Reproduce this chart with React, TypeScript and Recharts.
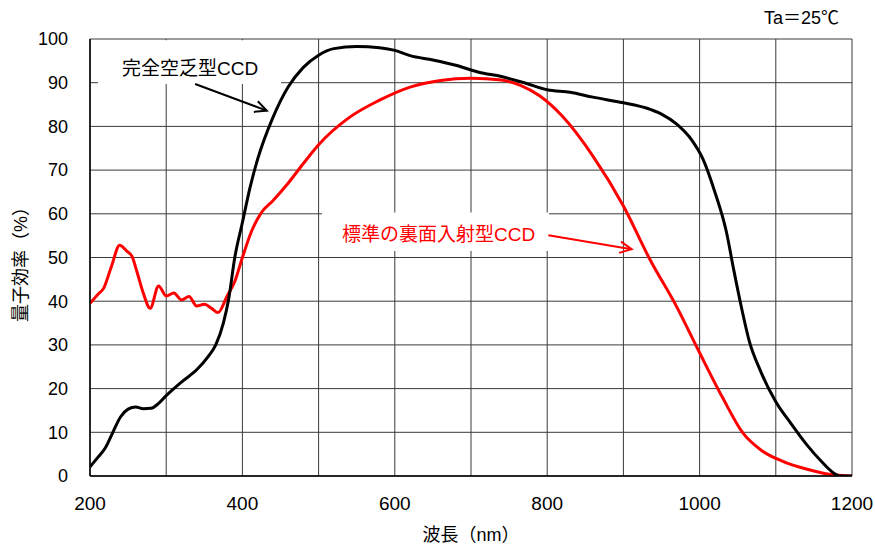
import {
  CartesianGrid,
  Line,
  LineChart,
  ReferenceArea,
  ReferenceLine,
  XAxis,
  YAxis,
} from 'recharts';

// 完全空乏型CCD
const fdWavelength = [
  200, 210, 220, 230, 240, 250, 260, 270, 280, 290, 300, 320, 340, 355, 365, 375, 382, 390,
  400, 410, 420, 440, 460, 480, 500, 520, 550, 580, 600, 620, 650, 680, 710, 740, 770, 800,
  830, 860, 900, 930, 950, 970, 990, 1005, 1020, 1035, 1045, 1055, 1065, 1080, 1100, 1120,
  1140, 1160, 1175, 1185, 1200,
];
const fdQe = [
  2.1, 4.2, 6.4, 10, 13.5, 15.3, 15.8, 15.4, 15.5, 16.6, 18.4, 21.5, 24.3, 27.3, 30, 35, 40.5,
  50, 58, 66, 72.5, 82, 89, 93.5, 96.3, 97.8, 98.3, 98, 97.4, 96.2, 95.2, 94, 92.4, 91.4, 90.0,
  88.4, 87.8, 86.7, 85.4, 84.2, 82.8, 80.5, 76.8, 72.3, 65, 56, 47, 38.5, 31, 24, 17, 12, 7.3,
  3.3, 0.8, 0, 0,
];

// 標準の裏面入射型CCD
const biWavelength = [
  200, 210, 218, 228, 239, 248, 255, 262, 270, 279, 290, 300, 310, 320, 330, 340, 350, 360,
  368, 380, 390, 400, 412, 425, 440, 460, 480, 500, 540, 580, 620, 660, 700, 740, 765, 790,
  820, 860, 900, 935, 970, 1000, 1030, 1057, 1080, 1110, 1140, 1170, 1200,
];
const biQe = [
  39.5, 41.5, 43, 47.9, 52.8, 51.5, 50.3, 46.5, 41.8, 38.4, 43.5, 41.2, 41.9, 40.3, 41.1, 38.9,
  39.3, 38.3, 37.4, 41.2, 44.5, 50, 56, 60.3, 63, 67, 71.5, 75.8, 82, 86, 89, 90.5, 91, 90.6,
  89.4, 87, 82.3, 73.2, 61.8, 49.5, 38.7, 28.2, 18, 9.8, 6, 3.3, 1.6, 0.4, 0,
];

const xTicks = [200, 300, 400, 500, 600, 700, 800, 900, 1000, 1100, 1200];
const yTicks = [0, 10, 20, 30, 40, 50, 60, 70, 80, 90, 100];

const fdData = fdWavelength.map((x, i) => ({ x, y: fdQe[i] }));
const biData = biWavelength.map((x, i) => ({ x, y: biQe[i] }));

const latin = '"Liberation Sans", Arial, "Noto Sans CJK JP", sans-serif';

function arrowShape(color: string) {
  return (props: any) => {
    const { x1, y1, x2, y2 } = props;
    const a = Math.atan2(y2 - y1, x2 - x1);
    const len = 13;
    const spread = 0.45;
    const w1x = x2 - len * Math.cos(a - spread);
    const w1y = y2 - len * Math.sin(a - spread);
    const w2x = x2 - len * Math.cos(a + spread);
    const w2y = y2 - len * Math.sin(a + spread);
    return (
      <g>
        <line x1={x1} y1={y1} x2={x2} y2={y2} stroke={color} strokeWidth={2} />
        <polyline
          points={`${w1x},${w1y} ${x2},${y2} ${w2x},${w2y}`}
          fill="none"
          stroke={color}
          strokeWidth={2}
        />
      </g>
    );
  };
}

const boxLabel = (text: string, color: string, dx: number, cy: number) => (props: any) => {
  const vb = props.viewBox || {};
  return (
    <text
      x={(vb.x ?? 0) + dx}
      y={cy}
      fill={color}
      fontSize={19}
      fontFamily={latin}
      dominantBaseline="central"
    >
      {text}
    </text>
  );
};

export default function App() {
  return (
    <div style={{ position: 'absolute', left: 0, top: 0, width: 875, height: 547, background: '#fff' }}>
      <LineChart width={875} height={547} margin={{ top: 39, right: 23, bottom: 0, left: 0 }}>
        <CartesianGrid stroke="#3a3a3a" strokeWidth={1} />
        <XAxis
          type="number"
          dataKey="x"
          domain={[200, 1200]}
          ticks={xTicks}
          tickFormatter={(v: number) => (v % 200 === 0 ? String(v) : '')}
          tick={{ fill: '#000', fontSize: 19, fontFamily: latin }}
          tickLine={false}
          tickSize={0}
          tickMargin={21}
          axisLine={{ stroke: '#000', strokeWidth: 1.5 }}
          height={71}
          allowDataOverflow
        />
        <YAxis
          type="number"
          domain={[0, 100]}
          ticks={yTicks}
          tick={{ fill: '#000', fontSize: 18, fontFamily: latin }}
          tickLine={false}
          tickSize={0}
          tickMargin={22}
          axisLine={{ stroke: '#000', strokeWidth: 1.5 }}
          width={90}
          allowDataOverflow
        />
        <ReferenceArea
          x1={210.5}
          x2={450.7}
          y1={89.7}
          y2={99.7}
          fill="#fff"
          fillOpacity={1}
          stroke="none"
          label={boxLabel('完全空乏型CCD', '#000', 24, 68)}
        />
        <ReferenceArea
          x1={504.5}
          x2={802.4}
          y1={51.5}
          y2={60.3}
          fill="#fff"
          fillOpacity={1}
          stroke="none"
          label={boxLabel('標準の裏面入射型CCD', '#ff0000', 20, 234)}
        />
        <ReferenceLine
          segment={[
            { x: 338, y: 89.7 },
            { x: 432, y: 83.6 },
          ]}
          shape={arrowShape('#000')}
        />
        <ReferenceLine
          segment={[
            { x: 801.5, y: 55.1 },
            { x: 910.8, y: 51.9 },
          ]}
          shape={arrowShape('#ff0000')}
        />
        <Line
          data={biData}
          dataKey="y"
          type="monotone"
          stroke="#ff0000"
          strokeWidth={3}
          dot={false}
          activeDot={false}
          isAnimationActive={false}
        />
        <Line
          data={fdData}
          dataKey="y"
          type="monotone"
          stroke="#000"
          strokeWidth={3}
          dot={false}
          activeDot={false}
          isAnimationActive={false}
        />
        <text x={839} y={24} textAnchor="end" fontSize={18} fontFamily={latin} fill="#000">
          Ta＝25℃
        </text>
        <text x={471} y={541} textAnchor="middle" fontSize={18} fontFamily={latin} fill="#000">
          波長（nm）
        </text>
        <text
          x={27}
          y={260}
          textAnchor="middle"
          fontSize={18}
          fontFamily={latin}
          fill="#000"
          transform="rotate(-90 27 260)"
        >
          量子効率（%）
        </text>
      </LineChart>
    </div>
  );
}
